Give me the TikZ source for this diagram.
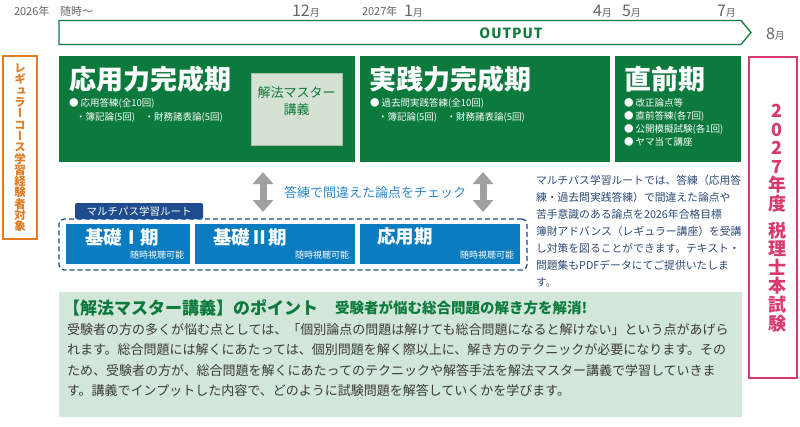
\documentclass[tikz,border=0pt]{standalone}
\usepackage{fontspec}
\setmainfont{Noto Sans CJK JP}
\newfontfamily\vjp{Noto Sans CJK JP}[RawFeature=+vert]
\newfontfamily\outfont{Fira Sans}[LetterSpace=10]
\usetikzlibrary{arrows.meta}
\newcommand\fsz[1]{\fontsize{#1}{#1}\selectfont}
\newcommand\monthtxt[2]{{\fsz{16}#1}{\fsz{10}#2}}
\definecolor{dgreen}{HTML}{0B7A3C}
\definecolor{lbox}{HTML}{D5E1D2}
\definecolor{lboxb}{HTML}{A9BEA6}
\definecolor{lgreen}{HTML}{D3E6DA}
\definecolor{orng}{HTML}{E27A1F}
\definecolor{pnk}{HTML}{D93A6E}
\definecolor{bblue}{HTML}{0B7CC0}
\definecolor{navy}{HTML}{1E4C8C}
\definecolor{arrgray}{HTML}{A0A0A0}
\definecolor{dategray}{HTML}{666666}
\definecolor{chkblue}{HTML}{2E88C8}
\definecolor{paracol}{HTML}{2D4A75}
\definecolor{bodycol}{HTML}{3A3A3A}
\begin{document}
\begin{tikzpicture}[x=1pt,y=-1pt,
  every node/.style={inner sep=0pt,outer sep=0pt},
  datelbl/.style={text=dategray,font=\fsz{11},anchor=base west},
  monthlbl/.style={text=dategray,anchor=base west},
  gbox/.style={fill=dgreen,anchor=north west,minimum height=106},
  gtitle/.style={text=white,font=\bfseries\fsz{27},anchor=west},
  gitem/.style={text=white,font=\fsz{9.5},anchor=base west},
  bbox/.style={fill=bblue,anchor=north west,minimum height=40},
  btitle/.style={text=white,font=\bfseries\fsz{18.5},anchor=west},
  bsub/.style={text=white,font=\fsz{9},anchor=base east},
  para/.style={text=paracol,font=\fsz{10.8},anchor=base west},
  body/.style={text=bodycol,font=\fsz{13},anchor=base west},
  dbl/.style={draw=arrgray,line width=7pt,{Triangle[width=20pt,length=12pt]}-{Triangle[width=20pt,length=12pt]}},
]
\useasboundingbox (0,0) rectangle (800,426);

% timeline labels
\node[datelbl] (y26) at (14,15) {2026年};
\node[datelbl] (anytime) at (60,15) {随時～};
\node[monthlbl] (m12) at (292,16) {\monthtxt{12}{月}};
\node[datelbl] (y27) at (362,15) {2027年};
\node[monthlbl] (m1) at (404,16) {\monthtxt{1}{月}};
\node[monthlbl] (m4) at (593,16) {\monthtxt{4}{月}};
\node[monthlbl] (m5) at (622,16) {\monthtxt{5}{月}};
\node[monthlbl] (m7) at (717,16) {\monthtxt{7}{月}};
\node[monthlbl] (m8) at (766,39) {\monthtxt{8}{月}};

% output arrow
\draw[dgreen,line width=1.3pt,line join=miter] (59,20.5) -- (741,20.5) -- (751,32.5) -- (741,44.5) -- (59,44.5) -- cycle;
\node[text=dgreen,font=\outfont\bfseries\fsz{15}] (out) at (511,33) {OUTPUT};

% green period boxes
\node[gbox,minimum width=296] (g1) at (59,56) {};
\node[gbox,minimum width=250] (g2) at (360,56) {};
\node[gbox,minimum width=126] (g3) at (615,56) {};

\node[fill=lbox,draw=lboxb,line width=0.8pt,minimum width=91,minimum height=72,anchor=north west] (master) at (251,73) {};
\node[text=dgreen,font=\fontsize{13}{17}\selectfont,align=center] (mastertxt) at (296.5,101) {解法マスター\\講義};

\node[gtitle] (t1) at (69,79) {応用力完成期};
\node[gitem] (i11) at (69,106.5) {● 応用答練(全10回)};
\node[gitem] (i12) at (76,120.5) {・簿記論(5回)\quad ・財務諸表論(5回)};

\node[gtitle] (t2) at (369,79) {実践力完成期};
\node[gitem] (i21) at (370,106.5) {● 過去問実践答練(全10回)};
\node[gitem] (i22) at (378,120.5) {・簿記論(5回)\quad ・財務諸表論(5回)};

\node[gtitle] (t3) at (624,79) {直前期};
\node[gitem] (i31) at (624,106.5) {● 改正論点等};
\node[gitem] (i32) at (624,119.5) {● 直前答練(各7回)};
\node[gitem] (i33) at (624,132.5) {● 公開模擬試験(各1回)};
\node[gitem] (i34) at (624,145.5) {● ヤマ当て講座};

% side labels
\node[draw=orng,line width=1.5pt,minimum width=34,minimum height=183,anchor=north west] (reg) at (3,56) {};
\node[text=orng,font=\vjp\bfseries\fontsize{11.5}{11.3}\selectfont,align=center] (regtxt) at (20,148)
  {レ\\ギ\\ュ\\ラ\\ー\\コ\\ー\\ス\\学\\習\\経\\験\\者\\対\\象};
\node[draw=pnk,line width=2pt,minimum width=48,minimum height=321,anchor=north west] (exam) at (749,57) {};
\node[text=pnk,font=\vjp\bfseries\fontsize{18}{18.6}\selectfont,align=center] (examtxt) at (777,218)
  {2\\0\\2\\7\\年\\度\\[8pt]税\\理\\士\\本\\試\\験};

% check arrows
\coordinate (a1t) at (263,172); \coordinate (a1b) at (263,212);
\coordinate (a2t) at (483,172); \coordinate (a2b) at (483,212);
\draw[dbl] (a1t) -- (a1b);
\draw[dbl] (a2t) -- (a2b);
\node[text=chkblue,font=\fsz{13}] (chk) at (375,192) {答練で間違えた論点をチェック};

% multipath route
\node[draw=navy,dash pattern=on 5pt off 3pt,line width=1.3pt,rounded corners=5pt,minimum width=468,minimum height=51,anchor=north west] (grp) at (59,219) {};
\node[fill=navy,rounded corners=2pt,minimum width=128,minimum height=16,text=white,font=\fsz{10.5}] (tab) at (139,211) {マルチパス学習ルート};
\node[bbox,minimum width=124] (b1) at (66,224) {};
\node[bbox,minimum width=160] (b2) at (195,224) {};
\node[bbox,minimum width=160] (b3) at (360,224) {};
\node[btitle] (bt1) at (85,237) {基礎Ⅰ期};
\node[btitle] (bt2) at (213,237) {基礎Ⅱ期};
\node[btitle] (bt3) at (377,237) {応用期};
\node[bsub] (bs1) at (184,258) {随時視聴可能};
\node[bsub] (bs2) at (349,258) {随時視聴可能};
\node[bsub] (bs3) at (514,258) {随時視聴可能};

% right paragraph
\node[para] (p1) at (536,184) {マルチパス学習ルートでは、答練（応用答};
\node[para] (p2) at (536,201) {練・過去問実践答練）で間違えた論点や};
\node[para] (p3) at (536,218) {苦手意識のある論点を2026年合格目標};
\node[para] (p4) at (536,235) {簿財アドバンス（レギュラー講座）を受講};
\node[para] (p5) at (536,252) {し対策を図ることができます。テキスト・};
\node[para] (p6) at (536,269) {問題集もPDFデータにてご提供いたしま};
\node[para] (p7) at (536,286) {す。};

% point box
\node[fill=lgreen,minimum width=683,minimum height=125,anchor=north west] (pt) at (59,292) {};
\node[text=dgreen,font=\bfseries\fsz{17},anchor=base west] (pttitle) at (63,314) {【解法マスター講義】のポイント};
\node[text=dgreen,font=\bfseries\fsz{14.5},anchor=base west] (ptsub) at (335,313) {受験者が悩む総合問題の解き方を解消!};
\node[body] (l1) at (67,334) {受験者の方の多くが悩む点としては、「個別論点の問題は解けても総合問題になると解けない」という点があげら};
\node[body] (l2) at (67,354.5) {れます。総合問題には解くにあたっては、個別問題を解く際以上に、解き方のテクニックが必要になります。その};
\node[body] (l3) at (67,375) {ため、受験者の方が、総合問題を解くにあたってのテクニックや解答手法を解法マスター講義で学習していきま};
\node[body] (l4) at (67,395.5) {す。講義でインプットした内容で、どのように試験問題を解答していくかを学びます。};
\end{tikzpicture}
\end{document}
